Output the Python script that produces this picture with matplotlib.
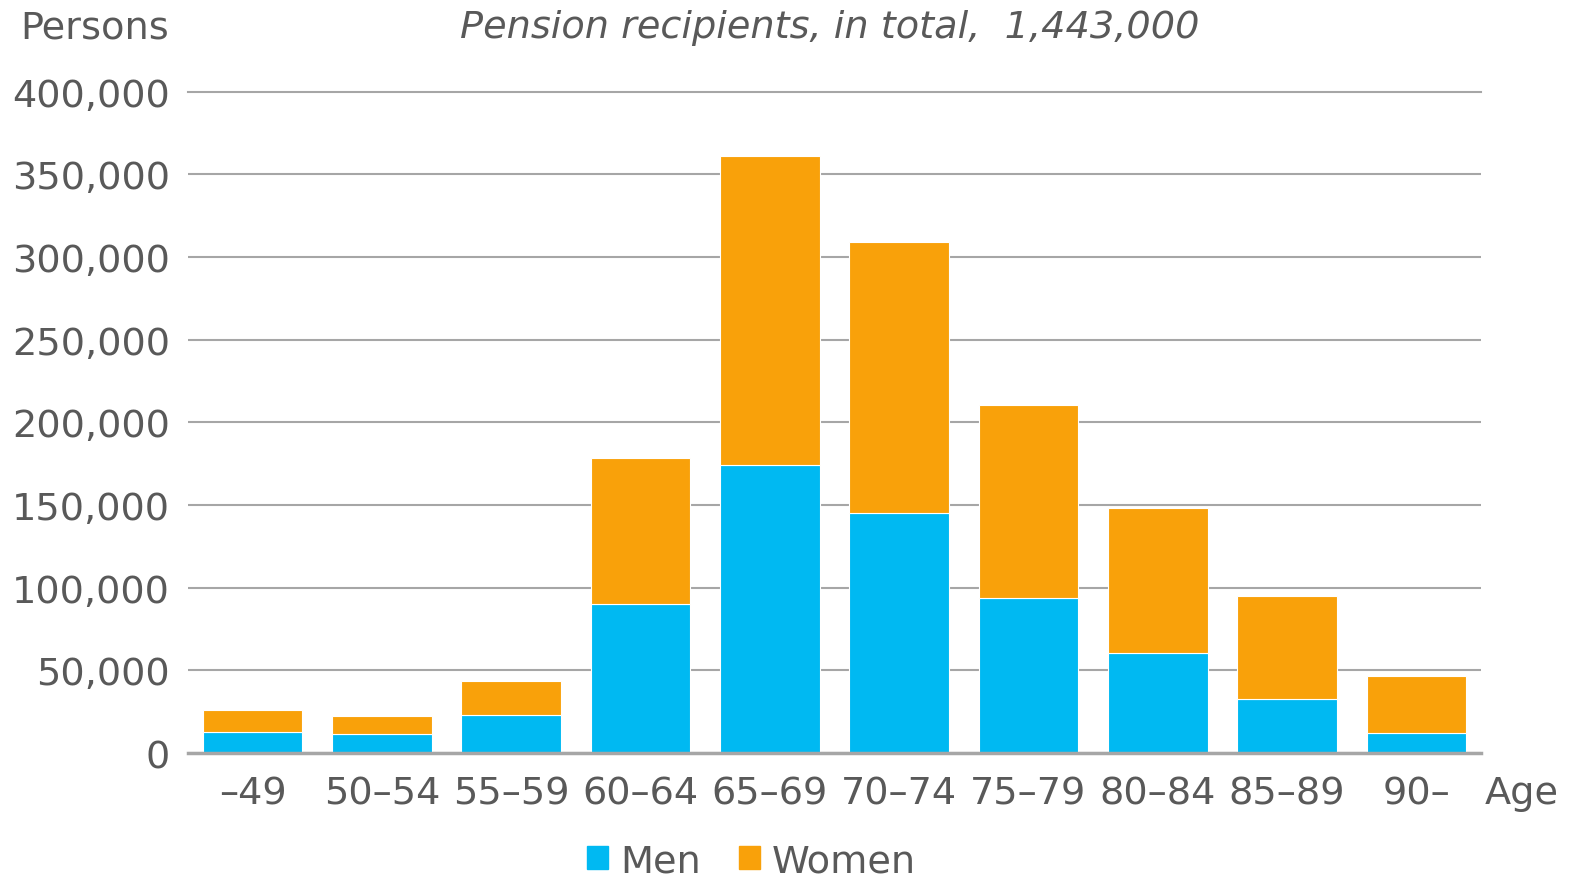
import numpy as np
import matplotlib.pyplot as plt
from matplotlib.ticker import FuncFormatter
from matplotlib.patches import Patch

# data
ages = ["\u201349", "50\u201354", "55\u201359", "60\u201364", "65\u201369",
        "70\u201374", "75\u201379", "80\u201384", "85\u201389", "90\u2013"]
men = [12700, 11500, 22900, 89900, 174400, 145400, 93500, 60300, 32600, 12100]
total = [25900, 22300, 43400, 178600, 360800, 308900, 210600, 148400, 94700, 46500]
women = [t - m for t, m in zip(total, men)]

blue = "#00B9F2"
orange = "#F9A10A"
grey_txt = "#595959"
grey_line = "#A6A6A6"
fs = 27.5

plt.rcParams['font.family'] = ['DejaVu Sans']

fig = plt.figure(figsize=(15.72, 8.79), dpi=100)
ax = fig.add_axes([0.1196, 0.1422, 0.8225, 0.7525])

x = np.arange(len(ages))
ax.bar(x, men, width=0.77, color=blue, edgecolor="white", lw=0.8, zorder=2)
ax.bar(x, women, bottom=men, width=0.77, color=orange, edgecolor="white", lw=0.8, zorder=2)

ax.set_xlim(-0.5, len(ages) - 0.5)
ax.set_ylim(0, 400000)
ax.set_yticks(np.arange(0, 400001, 50000))
ax.yaxis.set_major_formatter(FuncFormatter(lambda v, p: f"{int(v):,}"))
ax.set_xticks(x)
ax.set_xticklabels(ages)
ax.tick_params(axis="both", length=0, labelsize=fs, colors=grey_txt)
ax.tick_params(axis="y", pad=13)
ax.tick_params(axis="x", pad=16)

ax.grid(axis="y", color=grey_line, lw=1.5, zorder=1)
ax.yaxis.get_gridlines()[-1].set_clip_on(False)
for s in ["top", "right", "left"]:
    ax.spines[s].set_visible(False)
ax.spines["bottom"].set_color(grey_line)
ax.spines["bottom"].set_linewidth(2.5)
ax.spines["bottom"].set_zorder(3)

fig.text(0.0127, 0.968, "Persons", fontsize=fs, color=grey_txt, va="center", ha="left")
fig.text(0.528, 0.968, "Pension recipients, in total,  1,443,000", fontsize=fs,
         color=grey_txt, style="italic", va="center", ha="center")
fig.text(0.9445, 0.097, "Age", fontsize=fs, color=grey_txt, va="center", ha="left")

handles = [Patch(color=blue, label="Men"), Patch(color=orange, label="Women")]
fig.legend(handles=handles, loc="center", bbox_to_anchor=(0.478, 0.019), ncol=2,
           frameon=False, fontsize=fs, labelcolor=grey_txt, handlelength=0.55,
           handleheight=0.55, handletextpad=0.3, columnspacing=1.0)

fig.savefig("out.png", dpi=100)
